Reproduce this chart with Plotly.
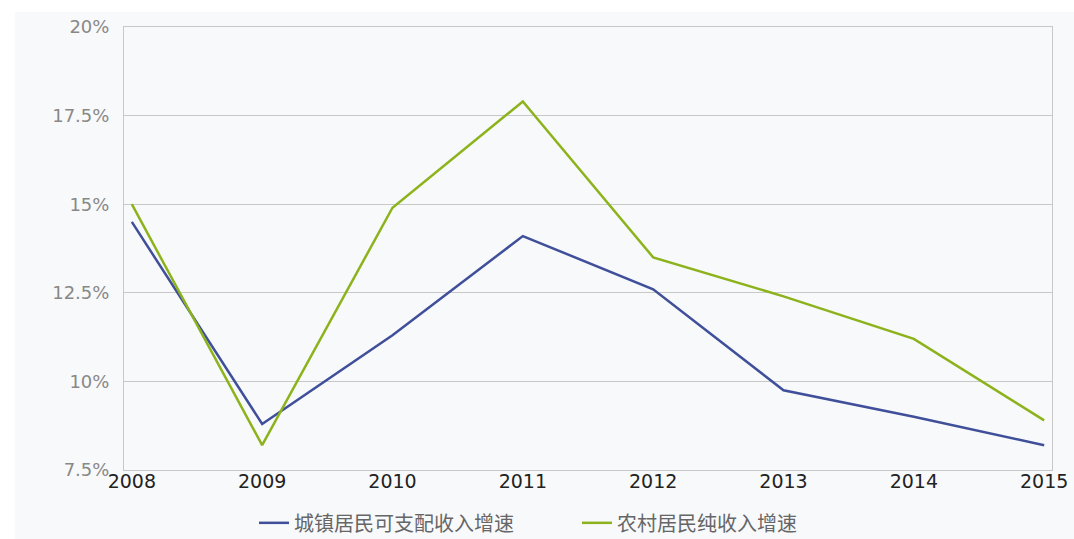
import plotly.graph_objects as go

years = [2008, 2009, 2010, 2011, 2012, 2013, 2014, 2015]
urban = [14.5, 8.8, 11.3, 14.1, 12.6, 9.75, 9.0, 8.2]
rural = [15.0, 8.2, 14.9, 17.9, 13.5, 12.4, 11.2, 8.9]
ytick_vals = [7.5, 10, 12.5, 15, 17.5, 20]
ytick_text = ["7.5%", "10%", "12.5%", "15%", "17.5%", "20%"]

BG = "#f8f9fb"

fig = go.Figure()
fig.add_trace(go.Scatter(x=years, y=urban, mode="lines", name="城镇居民可支配收入增速",
                         line=dict(color="#3f4f9a", width=2.5), legend="legend"))
fig.add_trace(go.Scatter(x=years, y=rural, mode="lines", name="农村居民纯收入增速",
                         line=dict(color="#8db31c", width=2.5), legend="legend2"))

# light panel behind chart (reference has thin white border top/left)
fig.add_shape(type="rect", xref="paper", yref="paper",
              x0=(15 - 124) / 928, x1=(1080 - 124) / 928,
              y0=(470 - 545) / 443, y1=(470 - 12) / 443,
              fillcolor=BG, line=dict(width=0), layer="below")

leg_common = dict(orientation="h", xanchor="left", yref="container", y=0.03,
                  yanchor="middle", font=dict(size=20, color="#666666"),
                  bgcolor="rgba(0,0,0,0)", itemwidth=30)

fig.update_layout(
    width=1074, height=539,
    margin=dict(l=124, r=22, t=27, b=69, autoexpand=False),
    paper_bgcolor="#ffffff", plot_bgcolor=BG,
    font=dict(family="Noto Sans CJK SC, DejaVu Sans, sans-serif"),
    showlegend=True,
    legend=dict(x=(254 - 124) / 928, **leg_common),
    legend2=dict(x=(577 - 124) / 928, **leg_common),
)
fig.update_xaxes(range=[2007.94, 2015.06], tickmode="array", tickvals=years,
                 ticktext=[str(y) for y in years], showgrid=False,
                 showline=True, linecolor="#c8c8c8", linewidth=1, mirror=True,
                 zeroline=False, ticks="", ticklabelstandoff=-6,
                 tickfont=dict(family="DejaVu Sans, sans-serif", size=19, color="#222222"))
fig.update_yaxes(range=[7.5, 20], tickmode="array", tickvals=ytick_vals, ticktext=ytick_text,
                 showgrid=True, gridcolor="#c8c8c8", gridwidth=1,
                 showline=True, linecolor="#c8c8c8", linewidth=1, mirror=True,
                 zeroline=False, ticks="outside", ticklen=10, tickcolor="rgba(0,0,0,0)",
                 tickfont=dict(family="DejaVu Sans, sans-serif", size=18, color="#888888"))

fig.write_html("out.html")
